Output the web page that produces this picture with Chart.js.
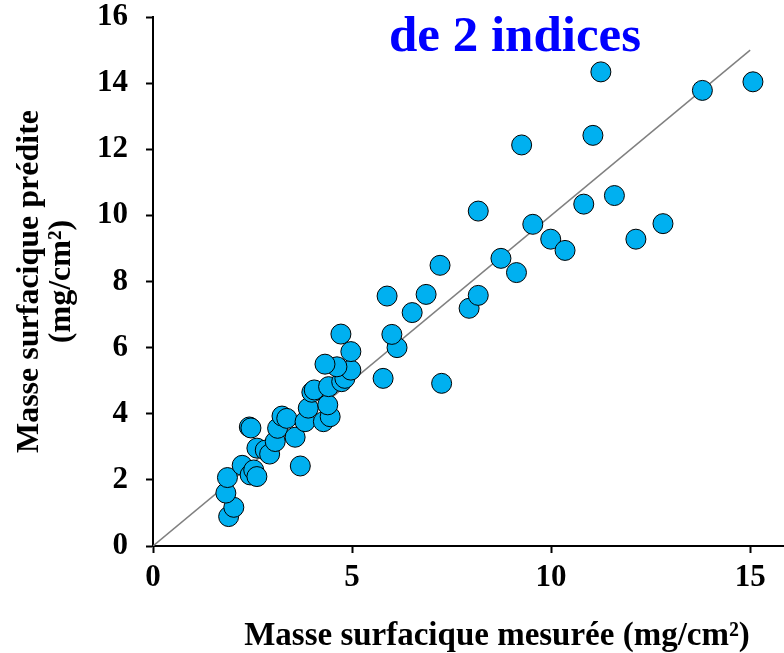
<!DOCTYPE html>
<html>
<head>
<meta charset="utf-8">
<script src="https://cdn.jsdelivr.net/npm/chart.js@4.4.0/dist/chart.umd.min.js"></script>
<style>
  html, body { margin: 0; padding: 0; background: #fff; }
  #chart { display: block; }
</style>
</head>
<body>
<canvas id="chart" width="784" height="653"></canvas>
<script>
const measured = [
  1.90, 2.03, 1.83, 1.87, 2.24, 2.44, 2.53, 2.61, 2.61, 2.82,
  2.93, 3.07, 3.13, 3.24, 3.36, 2.42, 2.46, 3.57, 3.70, 3.82,
  3.90, 4.28, 4.45, 4.39, 3.99, 4.05, 4.41, 4.74, 4.82, 4.97,
  4.62, 4.32, 4.97, 4.72, 5.78, 6.13, 6.00, 7.25, 5.88, 6.51,
  6.86, 7.21, 7.94, 8.17, 8.74, 9.13, 8.17, 9.54, 9.99, 10.35,
  12.13, 12.81, 10.82, 11.59, 9.26, 11.05, 11.25, 13.80, 15.07
];
const predicted = [
  0.89, 1.17, 1.60, 2.07, 2.44, 2.15, 2.30, 2.10, 2.96, 2.90,
  2.78, 3.16, 3.56, 3.93, 3.86, 3.60, 3.57, 3.29, 2.42, 3.76,
  4.17, 3.76, 3.91, 4.27, 4.65, 4.72, 4.82, 4.97, 5.07, 5.32,
  5.42, 5.50, 5.88, 6.41, 5.07, 6.00, 6.40, 4.92, 7.56, 7.06,
  7.61, 8.49, 7.19, 7.58, 8.70, 8.27, 10.13, 9.73, 9.28, 8.94,
  9.28, 9.75, 10.34, 10.60, 12.13, 12.42, 14.34, 13.78, 14.04
];
// 1:1 reference line
const lineX = [0, 15];
const lineY = [0, 15];
const xTicks = [0, 5, 10, 15];

const SERIF = '"Liberation Serif", "Times New Roman", serif';

// free text: the in-plot label and the x axis title
const extraText = {
  id: 'extraText',
  afterDraw(chart) {
    const ctx = chart.ctx;
    ctx.save();
    ctx.textAlign = 'center';
    ctx.textBaseline = 'alphabetic';
    ctx.fillStyle = '#0000FF';
    ctx.font = 'bold 51px ' + SERIF;
    ctx.fillText('de 2 indices', 515, 51);
    ctx.fillStyle = '#000';
    ctx.font = 'bold 33px ' + SERIF;
    ctx.fillText('Masse surfacique mesurée (mg/cm²)', 497, 645);
    ctx.restore();
  }
};

// axis label overhang is not wanted: plot box is fixed by layout padding
function noPad(s) {
  s.paddingTop = 0; s.paddingBottom = 0; s.paddingLeft = 0; s.paddingRight = 0;
}

new Chart(document.getElementById('chart'), {
  type: 'scatter',
  data: {
    datasets: [
      {
        label: 'points',
        data: measured.map((x, i) => ({ x, y: predicted[i] })),
        backgroundColor: '#00B0F0',
        borderColor: '#000',
        borderWidth: 1,
        pointRadius: 10,
        pointHoverRadius: 10,
        order: 1,
      },
      {
        label: '1:1',
        type: 'line',
        data: lineX.map((x, i) => ({ x, y: lineY[i] })),
        borderColor: '#808080',
        borderWidth: 1.5,
        pointRadius: 0,
        fill: false,
        order: 2,
      },
    ],
  },
  options: {
    responsive: false,
    animation: false,
    devicePixelRatio: 1,
    layout: { autoPadding: false, padding: { top: 17, right: 0, left: 0, bottom: 0 } },
    plugins: { legend: { display: false }, tooltip: { enabled: false } },
    scales: {
      x: {
        type: 'linear',
        min: 0,
        max: 15.85,
        afterBuildTicks: s => { s.ticks = xTicks.map(v => ({ value: v })); },
        afterFit: s => { s.height = 107; noPad(s); },
        grid: { drawOnChartArea: false, drawTicks: true, tickLength: 7, tickColor: '#000', tickWidth: 2 },
        border: { display: true, color: '#000', width: 2 },
        ticks: {
          color: '#000',
          padding: 9,
          maxRotation: 0,
          font: { family: SERIF, size: 31, weight: 'bold', lineHeight: 1 },
        },
        title: { display: false },
      },
      y: {
        min: 0,
        max: 16,
        afterFit: s => { s.width = 153; noPad(s); },
        grid: { drawOnChartArea: false, drawTicks: true, tickLength: 7, tickColor: '#000', tickWidth: 2 },
        border: { display: true, color: '#000', width: 2 },
        ticks: {
          stepSize: 2,
          color: '#000',
          padding: 18,
          font: { family: SERIF, size: 31, weight: 'bold', lineHeight: 1 },
        },
        title: {
          display: true,
          text: ['Masse surfacique prédite', '(mg/cm²)'],
          color: '#000',
          padding: { top: 14, bottom: 0 },
          font: { family: SERIF, size: 32, weight: 'bold', lineHeight: 1 },
        },
      },
    },
  },
  plugins: [extraText],
});
</script>
</body>
</html>
